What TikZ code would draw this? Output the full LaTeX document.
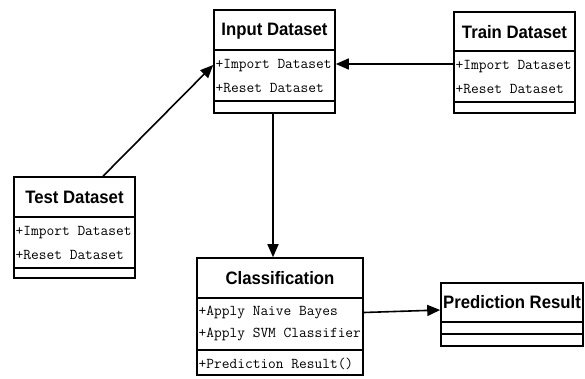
\documentclass[tikz,border=0pt]{standalone}
\usepackage{fontspec}
\usetikzlibrary{arrows.meta,calc}
\newfontfamily\titlefont[FakeStretch=0.93]{Liberation Sans Bold}
\begin{document}
\begin{tikzpicture}[x=1pt,y=-1pt,
  box/.style={draw,line width=1.6pt,inner sep=0pt},
  divider/.style={line width=1.6pt},
  ttl/.style={font=\titlefont\fontsize{18}{18}\selectfont,inner sep=0pt},
  attr/.style={font=\ttfamily\fontsize{15}{16}\selectfont,inner sep=0pt,anchor=west},
  conn/.style={line width=1.6pt,-{Triangle[length=13pt,width=11pt]}}]
\useasboundingbox (0,0) rectangle (585,378);
% Input Dataset
\node[box,minimum width=121pt,minimum height=103pt] (input) at (274.5,61.5) {};
\draw[divider] (214,50) -- (335,50) (214,101) -- (335,101);
\node[ttl] (inputT) at (274.5,31) {Input Dataset};
\node[attr] (inputA1) at (215.5,66) {+Import Dataset};
\node[attr] (inputA2) at (215.5,88) {+Reset Dataset};
% Train Dataset
\node[box,minimum width=121pt,minimum height=101pt] (train) at (514.5,62.5) {};
\draw[divider] (454,51) -- (575,51) (454,102) -- (575,102);
\node[ttl] (trainT) at (514.5,32) {Train Dataset};
\node[attr] (trainA1) at (455.5,67) {+Import Dataset};
\node[attr] (trainA2) at (455.5,89) {+Reset Dataset};
% Test Dataset
\node[box,minimum width=121pt,minimum height=101pt] (test) at (74.5,227.5) {};
\draw[divider] (14,217) -- (135,217) (14,268) -- (135,268);
\node[ttl] (testT) at (74.5,197) {Test Dataset};
\node[attr] (testA1) at (15.5,233) {+Import Dataset};
\node[attr] (testA2) at (15.5,255) {+Reset Dataset};
% Classification
\node[box,minimum width=166pt,minimum height=117pt] (cls) at (280,316.5) {};
\draw[divider] (197,298) -- (363,298) (197,350) -- (363,350);
\node[ttl] (clsT) at (280,278) {Classification};
\node[attr] (clsA1) at (198.5,313) {+Apply Naive Bayes};
\node[attr] (clsA2) at (198.5,335) {+Apply SVM Classifier};
\node[attr] (clsM1) at (198.5,364) {+Prediction Result()};
% Prediction Result
\node[box,minimum width=142pt,minimum height=63pt] (pred) at (512,314.5) {};
\draw[divider] (441,322) -- (583,322) (441,334) -- (583,334);
\node[ttl] (predT) at (512,302) {Prediction Result};
% connectors
\draw[conn] ([xshift=28.5pt]test.north) -- ([yshift=-3.5pt]input.west);
\draw[conn] ([yshift=-1.5pt]train.west) -- ([yshift=-2.5pt]input.east);
\draw[conn] ([xshift=-1.5pt]input.south) -- ([xshift=-7pt]cls.north);
\draw[conn] ([yshift=4pt]cls.east) -- ([yshift=4.5pt]pred.west);
\end{tikzpicture}
\end{document}
